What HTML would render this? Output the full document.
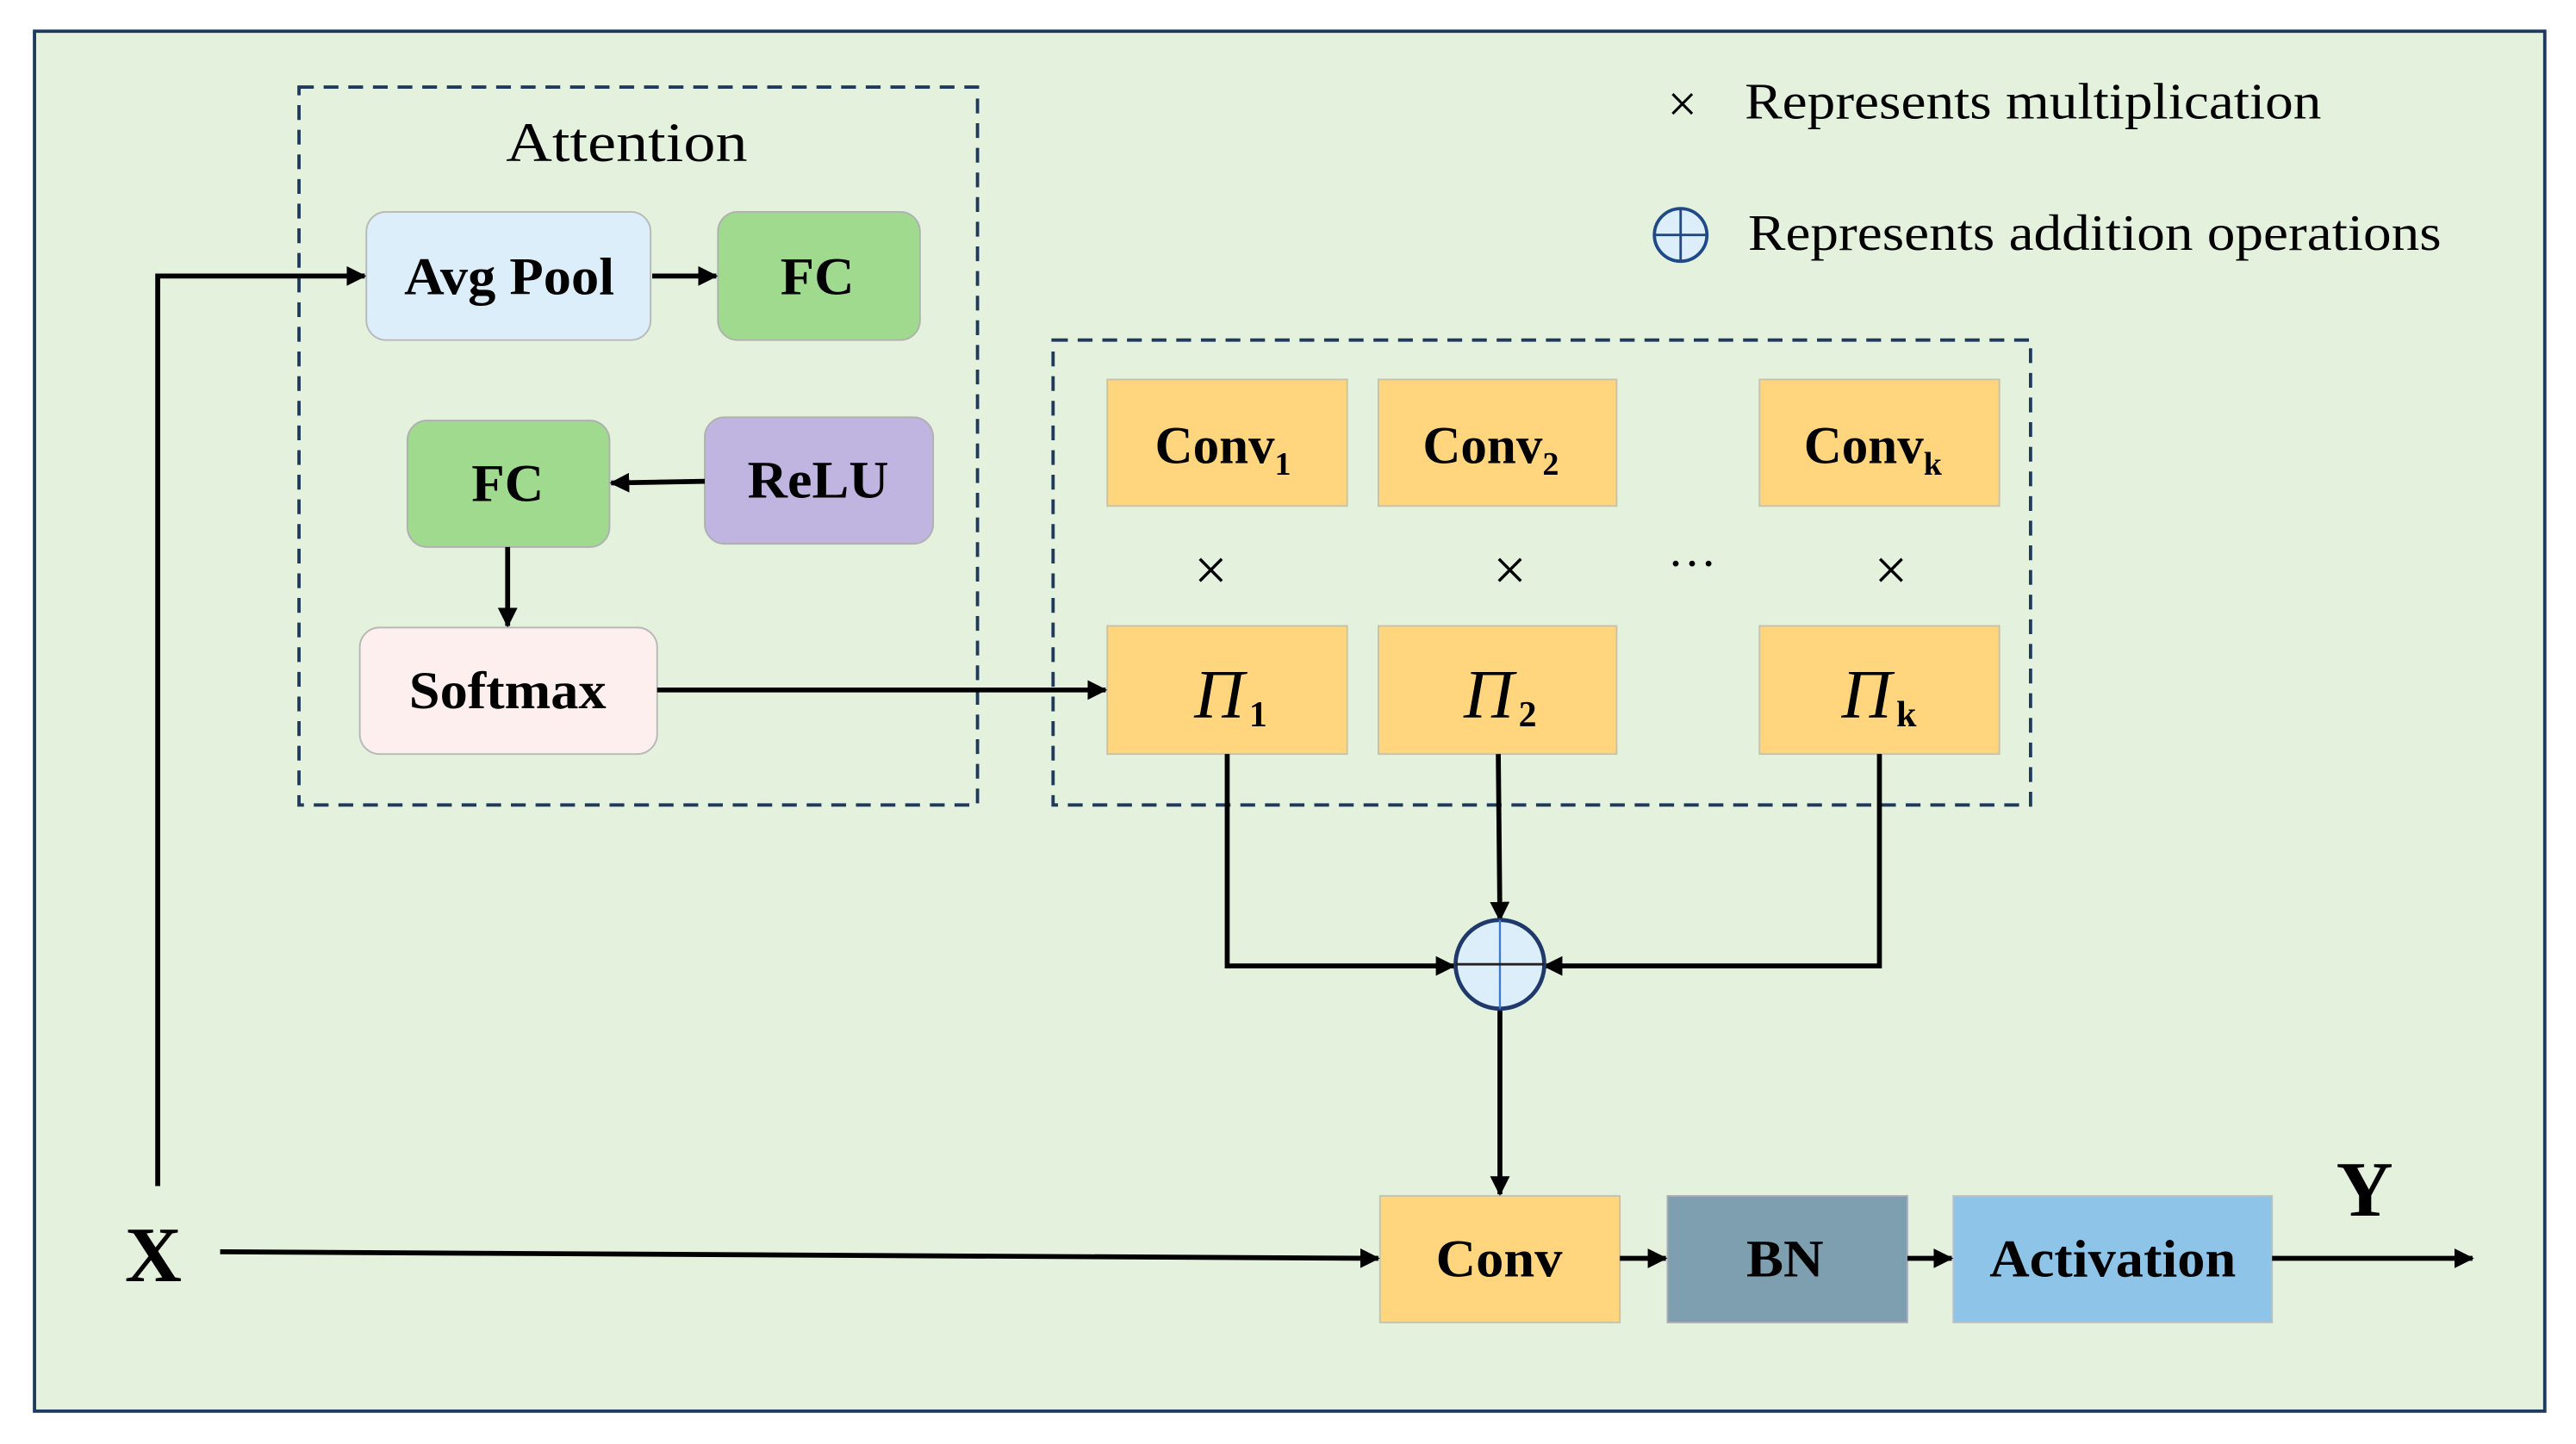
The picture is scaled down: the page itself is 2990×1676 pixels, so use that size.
<!DOCTYPE html>
<html><head><meta charset="utf-8"><style>
html,body{margin:0;padding:0;background:#fff;}
svg{display:block;}
text{font-family:"Liberation Serif",serif;fill:#000;}
.b{font-weight:bold;}
</style></head><body>
<svg width="2990" height="1676" viewBox="0 0 1568 879" preserveAspectRatio="none" xmlns="http://www.w3.org/2000/svg">
<defs>
<marker id="ah" markerWidth="12" markerHeight="12" refX="11" refY="6" orient="auto" markerUnits="userSpaceOnUse">
<path d="M0,0 L12,6 L0,12 Z" fill="#000"/>
</marker>
</defs>
<rect x="0" y="0" width="1568" height="879" fill="#fff"/>
<rect x="21" y="19" width="1528" height="840" fill="#e3f1dd" stroke="#1f3a5e" stroke-width="2"/>
<rect x="182" y="53" width="413" height="437" fill="none" stroke="#1f3a5e" stroke-width="2" stroke-dasharray="9,6"/>
<rect x="641" y="207" width="595" height="283" fill="none" stroke="#1f3a5e" stroke-width="2" stroke-dasharray="9,6"/>
<text x="308" y="98" font-size="34" textLength="147" lengthAdjust="spacingAndGlyphs">Attention</text>
<rect x="223" y="129" width="173" height="78" rx="12" fill="#ddeefb" stroke="#b8b8b8"/>
<text class="b" x="246" y="179" font-size="32" textLength="128" lengthAdjust="spacingAndGlyphs">Avg Pool</text>
<rect x="437" y="129" width="123" height="78" rx="12" fill="#a0da8f" stroke="#b0b0b0"/>
<text class="b" x="475" y="179" font-size="32" textLength="45" lengthAdjust="spacingAndGlyphs">FC</text>
<rect x="248" y="256" width="123" height="77" rx="12" fill="#a0da8f" stroke="#b0b0b0"/>
<text class="b" x="287" y="305" font-size="32" textLength="44" lengthAdjust="spacingAndGlyphs">FC</text>
<rect x="429" y="254" width="139" height="77" rx="12" fill="#c0b5e1" stroke="#b0b0b0"/>
<text class="b" x="455" y="303" font-size="32" textLength="86" lengthAdjust="spacingAndGlyphs">ReLU</text>
<rect x="219" y="382" width="181" height="77" rx="12" fill="#fdefee" stroke="#b8b8b8"/>
<text class="b" x="249" y="431" font-size="32" textLength="120" lengthAdjust="spacingAndGlyphs">Softmax</text>
<g fill="#ffd67d" stroke="#c9c2a6">
<rect x="674" y="231" width="146" height="77"/>
<rect x="839" y="231" width="145" height="77"/>
<rect x="1071" y="231" width="146" height="77"/>
<rect x="674" y="381" width="146" height="78"/>
<rect x="839" y="381" width="145" height="78"/>
<rect x="1071" y="381" width="146" height="78"/>
</g>
<text class="b" x="703" y="282" font-size="32">Conv<tspan font-size="20" dy="7">1</tspan></text>
<text class="b" x="866" y="282" font-size="32">Conv<tspan font-size="20" dy="7">2</tspan></text>
<text class="b" x="1098" y="282" font-size="32">Conv<tspan font-size="20" dy="7">k</tspan></text>
<text x="727" y="437" font-size="42" font-style="italic">Π<tspan font-size="22" font-style="normal" font-weight="bold" dy="5" dx="3">1</tspan></text>
<text x="891" y="437" font-size="42" font-style="italic">Π<tspan font-size="22" font-style="normal" font-weight="bold" dy="5" dx="3">2</tspan></text>
<text x="1121" y="437" font-size="42" font-style="italic">Π<tspan font-size="22" font-style="normal" font-weight="bold" dy="5" dx="3">k</tspan></text>
<g font-size="36" text-anchor="middle"><text x="737" y="359">×</text><text x="919" y="359">×</text><text x="1151" y="359">×</text></g>
<text x="1030" y="353" font-size="30" text-anchor="middle">···</text>
<rect x="840" y="728" width="146" height="77" fill="#ffd67d" stroke="#c9c2a6"/>
<text class="b" x="874" y="777" font-size="32" textLength="77" lengthAdjust="spacingAndGlyphs">Conv</text>
<rect x="1015" y="728" width="146" height="77" fill="#7e9fb0" stroke="#aab"/>
<text class="b" x="1063" y="777" font-size="32" textLength="47" lengthAdjust="spacingAndGlyphs">BN</text>
<rect x="1189" y="728" width="194" height="77" fill="#8dc4e8" stroke="#b8c0c8"/>
<text class="b" x="1211" y="777" font-size="32" textLength="150" lengthAdjust="spacingAndGlyphs">Activation</text>
<text class="b" x="76" y="780" font-size="48">X</text>
<text class="b" x="1422" y="740" font-size="48">Y</text>
<g stroke="#000" stroke-width="3" fill="none" marker-end="url(#ah)">
<polyline points="96,722 96,168 222,168"/>
<line x1="397" y1="168" x2="436" y2="168"/>
<line x1="429" y1="293" x2="372" y2="294"/>
<line x1="309" y1="333" x2="309" y2="381"/>
<line x1="400" y1="420" x2="673" y2="420"/>
<polyline points="747,459 747,588 885,588"/>
<line x1="912" y1="459" x2="913" y2="560"/>
<polyline points="1144,459 1144,588 940,588"/>
<line x1="913" y1="614" x2="913" y2="727"/>
<line x1="134" y1="762" x2="839" y2="766"/>
<line x1="986" y1="766" x2="1014" y2="766"/>
<line x1="1161" y1="766" x2="1188" y2="766"/>
<line x1="1383" y1="766" x2="1505" y2="766"/>
</g>
<circle cx="913" cy="587" r="27" fill="#ddeefb" stroke="#1f3a6a" stroke-width="2.5"/>
<line x1="913" y1="560" x2="913" y2="614" stroke="#3a7ad0" stroke-width="1.2"/>
<line x1="886" y1="587" x2="940" y2="587" stroke="#222" stroke-width="1.5"/>
<text x="1024" y="74" font-size="32" text-anchor="middle">×</text>
<text x="1062" y="72" font-size="31" textLength="351" lengthAdjust="spacingAndGlyphs">Represents multiplication</text>
<circle cx="1023" cy="143" r="16" fill="#ddeefb" stroke="#1f4a8a" stroke-width="2"/>
<line x1="1023" y1="127" x2="1023" y2="159" stroke="#1f4a8a" stroke-width="1.5"/>
<line x1="1007" y1="143" x2="1039" y2="143" stroke="#1f4a8a" stroke-width="1.5"/>
<text x="1064" y="152" font-size="31" textLength="422" lengthAdjust="spacingAndGlyphs">Represents addition operations</text>
</svg>
</body></html>
